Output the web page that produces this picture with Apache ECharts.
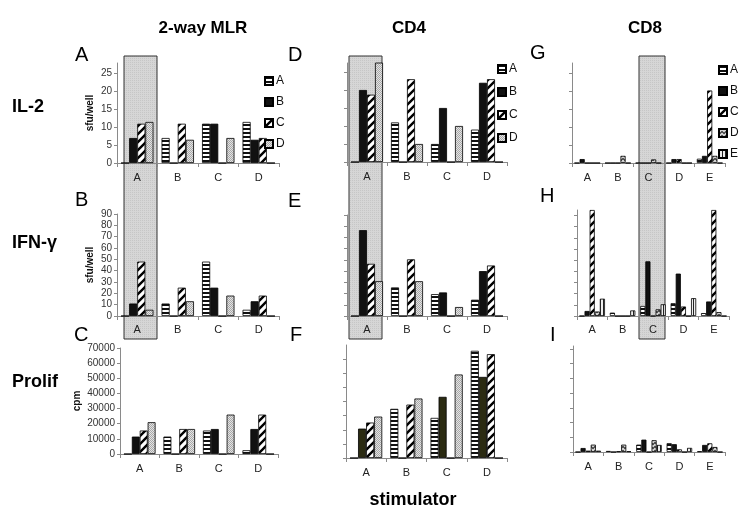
<!DOCTYPE html>
<html><head><meta charset="utf-8">
<script src="https://cdn.jsdelivr.net/npm/echarts@6/dist/echarts.min.js"></script>
<style>html,body{margin:0;padding:0;background:#fff}#c{width:751px;height:522px}</style>
</head><body><div id="c"></div>
<script>
// ---------- data ----------
const cats4 = ['A','B','C','D'];
const cats5 = ['A','B','C','D','E'];
const seriesNames4 = ['A','B','C','D'];
const seriesNames5 = ['A','B','C','D','E'];

// 2-way MLR
const mlrIL2_A = [0, 7, 11, 11.5];
const mlrIL2_B = [7, 0, 11, 6.5];
const mlrIL2_C = [11, 11, 0, 7];
const mlrIL2_D = [11.5, 6.5, 7, 0];

const mlrIFN_A = [0, 11, 48, 5.5];
const mlrIFN_B = [11, 0, 25, 13];
const mlrIFN_C = [48, 25, 0, 18];
const mlrIFN_D = [5.5, 13, 18, 0];

const mlrPro_A = [0, 11500, 15500, 2500];
const mlrPro_B = [11500, 0, 16500, 16500];
const mlrPro_C = [15500, 16500, 0, 26000];
const mlrPro_D = [21000, 16500, 26000, 0];

// CD4
const cd4IL2_A = [0, 11, 5, 9];
const cd4IL2_B = [20, 0, 15, 22];
const cd4IL2_C = [18.7, 23, 0, 23];
const cd4IL2_D = [28, 5, 10, 0];

const cd4IFN_A = [0, 25.5, 19.5, 14.5];
const cd4IFN_B = [76.5, 0, 21, 40];
const cd4IFN_C = [46.5, 50.5, 0, 45];
const cd4IFN_D = [31, 31, 8, 0];

const cd4Pro_A = [0, 34800, 28400, 75900];
const cd4Pro_B = [20800, 0, 43300, 57400];
const cd4Pro_C = [25100, 37800, 0, 73500];
const cd4Pro_D = [29300, 42100, 59100, 0];

// CD8
const cd8IL2_A = [0, 0, 0, 0, 1.2];
const cd8IL2_B = [1.1, 0, 0, 1.1, 2];
const cd8IL2_C = [0, 0, 0, 1.1, 20.3];
const cd8IL2_D = [0, 2, 1, 0, 2];
const cd8IL2_E = [0, 0, 0, 0, 0];

const cd8IFN_A = [0, 3, 9, 11.5, 2.6];
const cd8IFN_B = [4.5, 0, 49, 38, 13];
const cd8IFN_C = [95, 0, 0, 8.5, 95];
const cd8IFN_D = [4, 0, 6, 0, 3.5];
const cd8IFN_E = [15.5, 5, 10.5, 16, 0];

const cd8Pro_A = [0, 700, 5000, 6000, 500];
const cd8Pro_B = [2700, 0, 8400, 5300, 4800];
const cd8Pro_C = [900, 500, 0, 1800, 5900];
const cd8Pro_D = [5000, 5000, 8000, 0, 3400];
const cd8Pro_E = [900, 500, 4800, 2800, 0];

// tick values
const ticksIL2 = [0, 5, 10, 15, 20, 25];
const ticksIFN = [0, 10, 20, 30, 40, 50, 60, 70, 80, 90];
const ticksPro = [0, 10000, 20000, 30000, 40000, 50000, 60000, 70000];

// ---------- patterns ----------
function pat(w, h, draw) {
  const c = document.createElement('canvas');
  c.width = w; c.height = h;
  const g = c.getContext('2d');
  draw(g, w, h);
  return { image: c, repeat: 'repeat' };
}
const P = {
  hstripe: pat(4, 4, (g) => { g.fillStyle = '#fff'; g.fillRect(0,0,4,4); g.fillStyle = '#111'; g.fillRect(0,0,4,2); }),
  black: '#111',
  olive: '#2b2b12',
  diag: pat(8, 8, (g) => {
    g.fillStyle = '#fff'; g.fillRect(0,0,8,8);
    g.strokeStyle = '#000'; g.lineWidth = 2.4;
    g.beginPath();
    g.moveTo(-2, 10); g.lineTo(10, -2);
    g.moveTo(-6, 6); g.lineTo(6, -6);
    g.moveTo(2, 14); g.lineTo(14, 2);
    g.stroke();
  }),
  dots: pat(2, 2, (g) => { g.fillStyle = '#e4e4e4'; g.fillRect(0,0,2,2); g.fillStyle = '#a8a8a8'; g.fillRect(0,0,1,1); g.fillRect(1,1,1,1); }),
  check: pat(4, 4, (g) => { g.fillStyle = '#d0d0d0'; g.fillRect(0,0,4,4); g.fillStyle = '#555'; g.fillRect(0,0,2,1); g.fillRect(2,2,2,1); g.fillRect(0,3,4,1); }),
  vstripe: pat(3, 3, (g) => { g.fillStyle = '#eee'; g.fillRect(0,0,3,3); g.fillStyle = '#222'; g.fillRect(0,0,1,3); }),
  box: pat(2, 2, (g) => { g.fillStyle = '#d6d6d6'; g.fillRect(0,0,2,2); g.fillStyle = '#c6c6c6'; g.fillRect(0,0,1,1); })
};
const styles4 = [P.hstripe, P.black, P.diag, P.dots];
const styles4F = [P.hstripe, P.olive, P.diag, P.dots];
const styles5 = [P.hstripe, P.black, P.diag, P.check, P.vstripe];

// ---------- layout ----------
const FONT = 'Liberation Sans, Arial, sans-serif';
const panels = [
  { id:'mlrIL2', cats:cats4, data:[mlrIL2_A,mlrIL2_B,mlrIL2_C,mlrIL2_D], sty:styles4, grid:{left:117,top:63,width:162,height:100}, max:28, ticks:ticksIL2, labels:true, name:'sfu/well', nameGap:22, lm:9 },
  { id:'mlrIFN', cats:cats4, data:[mlrIFN_A,mlrIFN_B,mlrIFN_C,mlrIFN_D], sty:styles4, grid:{left:117,top:214,width:162,height:102}, max:90, ticks:ticksIFN, labels:true, name:'sfu/well', nameGap:22, lm:8 },
  { id:'mlrPro', cats:cats4, data:[mlrPro_A,mlrPro_B,mlrPro_C,mlrPro_D], sty:styles4, grid:{left:120,top:348,width:158,height:106}, max:70000, ticks:ticksPro, labels:true, name:'cpm', nameGap:38, lm:9 },
  { id:'cd4IL2', cats:cats4, data:[cd4IL2_A,cd4IL2_B,cd4IL2_C,cd4IL2_D], sty:styles4, grid:{left:347,top:63,width:160,height:99}, max:27.5, ticks:ticksIL2, labels:false, lm:9 },
  { id:'cd4IFN', cats:cats4, data:[cd4IFN_A,cd4IFN_B,cd4IFN_C,cd4IFN_D], sty:styles4, grid:{left:347,top:215,width:160,height:101}, max:90, ticks:ticksIFN, labels:false, lm:8 },
  { id:'cd4Pro', cats:cats4, data:[cd4Pro_A,cd4Pro_B,cd4Pro_C,cd4Pro_D], sty:styles4F, grid:{left:346,top:345,width:161,height:113}, max:80000, ticks:ticksPro, labels:false, lm:9 },
  { id:'cd8IL2', cats:cats5, data:[cd8IL2_A,cd8IL2_B,cd8IL2_C,cd8IL2_D,cd8IL2_E], sty:styles5, grid:{left:572,top:63,width:153,height:100}, max:28, ticks:ticksIL2, labels:false, lm:9 },
  { id:'cd8IFN', cats:cats5, data:[cd8IFN_A,cd8IFN_B,cd8IFN_C,cd8IFN_D,cd8IFN_E], sty:styles5, grid:{left:577,top:210,width:152,height:106}, max:95, ticks:ticksIFN, labels:false, lm:8 },
  { id:'cd8Pro', cats:cats5, data:[cd8Pro_A,cd8Pro_B,cd8Pro_C,cd8Pro_D,cd8Pro_E], sty:styles5, grid:{left:573,top:346,width:152,height:106}, max:72000, ticks:ticksPro, labels:false, lm:9 }
];

const grid = [], xAxis = [], yAxis = [], series = [];
panels.forEach((p, i) => {
  grid.push(Object.assign({ containLabel:false }, p.grid));
  xAxis.push({
    type:'category', gridIndex:i, data:p.cats,
    axisLine:{ lineStyle:{ color:'#8a8a8a', width:1 } },
    axisTick:{ show:true, length:4, alignWithLabel:false, lineStyle:{ color:'#8a8a8a' } },
    axisLabel:{ color:'#222', fontSize:11, fontFamily:FONT, margin:p.lm }
  });
  yAxis.push({
    type:'value', gridIndex:i, min:0, max:p.max,
    name: p.name || '', nameLocation:'middle', nameRotate:90, nameGap:p.nameGap || 20,
    nameTextStyle:{ fontSize:10, fontWeight:'bold', fontFamily:FONT, color:'#111' },
    splitLine:{ show:false },
    axisLine:{ show:true, lineStyle:{ color:'#8a8a8a', width:1 } },
    axisTick:{ show:true, length:3, customValues:p.ticks, lineStyle:{ color:'#8a8a8a' } },
    axisLabel:{ show:p.labels, customValues:p.ticks, formatter:(v) => String(v),
      color:'#333', fontSize:10, fontFamily:FONT, margin:5 }
  });
  const names = p.cats.length === 5 ? seriesNames5 : seriesNames4;
  p.data.forEach((d, k) => {
    series.push({
      type:'bar', name: p.id + '-' + names[k], xAxisIndex:i, yAxisIndex:i, data:d,
      barGap:'0%', barCategoryGap: p.cats.length === 5 ? '16%' : '20%',
      itemStyle:{ color:p.sty[k], borderColor:'#000', borderWidth:0.8 },
      emphasis:{ disabled:true }, animation:false
    });
  });
});

function legendFor(id, names, left, top, gap) {
  return {
    orient:'vertical', left:left, top:top, itemGap:gap, itemWidth:8, itemHeight:8, icon:'rect',
    data: names.map(n => id + '-' + n),
    formatter: (n) => n.split('-')[1],
    textStyle:{ fontSize:12, fontFamily:FONT, color:'#111', padding:[0,0,0,-2] },
    selectedMode:false, padding:0
  };
}
const legend = [
  legendFor('mlrIL2', seriesNames4, 264, 75, 9),
  legendFor('cd4IL2', seriesNames4, 497, 63, 11),
  legendFor('cd8IL2', seriesNames5, 718, 64, 9)
];

function txt(x, y, s, size, bold, align) {
  return { type:'text', x:x, y:y, z:10, silent:true,
    style:{ text:s, fontSize:size, fontWeight: bold ? 'bold' : 'normal', fontFamily:FONT, fill:'#000',
      textAlign: align || 'left', textVerticalAlign:'middle' } };
}
function hiBox(x, w) {
  return { type:'rect', z:-1, silent:true, shape:{ x:x, y:56, width:w, height:283 },
    style:{ fill:P.box, stroke:'#333', lineWidth:1 } };
}
const graphic = [
  hiBox(124, 33), hiBox(349, 33), hiBox(639, 26),
  txt(203, 28, '2-way MLR', 17, true, 'center'),
  txt(409, 28, 'CD4', 17, true, 'center'),
  txt(645, 28, 'CD8', 17, true, 'center'),
  txt(12, 107, 'IL-2', 18, true),
  txt(12, 243, 'IFN-γ', 18, true),
  txt(12, 382, 'Prolif', 18, true),
  txt(75, 55, 'A', 20, false), txt(288, 55, 'D', 20, false), txt(530, 53, 'G', 20, false),
  txt(75, 200, 'B', 20, false), txt(288, 201, 'E', 20, false), txt(540, 196, 'H', 20, false),
  txt(74, 335, 'C', 20, false), txt(290, 335, 'F', 20, false), txt(550, 335, 'I', 20, false),
  txt(413, 500, 'stimulator', 18, true, 'center')
];

const chart = echarts.init(document.getElementById('c'), null, { renderer:'canvas' });
chart.setOption({ animation:false, backgroundColor:'#fff', grid, xAxis, yAxis, series, legend, graphic });
</script></body></html>
